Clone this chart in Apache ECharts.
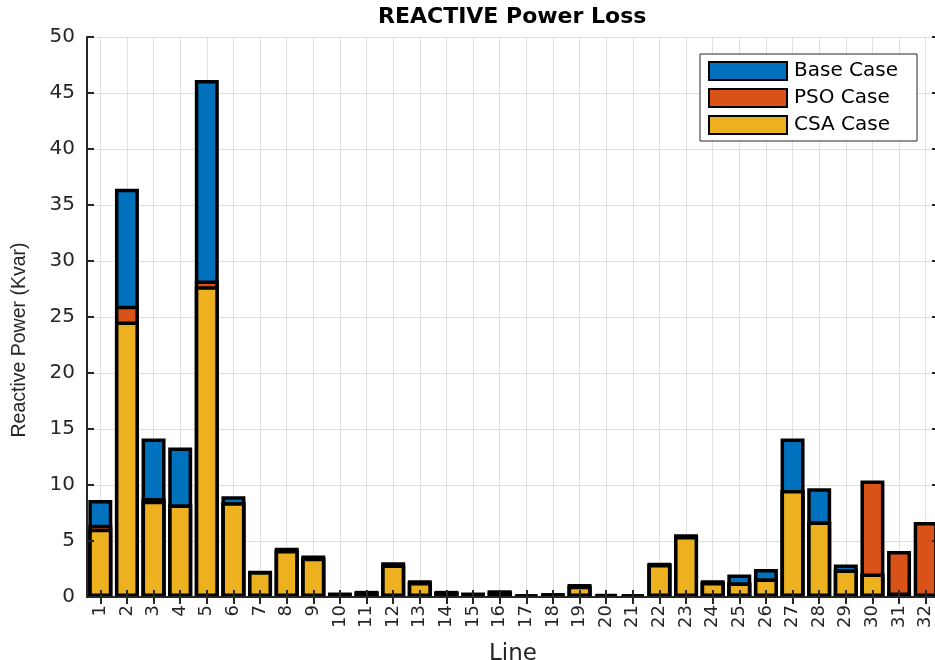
<!DOCTYPE html>
<html>
<head>
<meta charset="utf-8">
<script src="https://cdn.jsdelivr.net/npm/echarts@6/dist/echarts.min.js"></script>
<style>
    html, body { margin: 0; padding: 0; background: #fff; }
    #echart-div { width: 935px; height: 660px; }
</style>
</head>
<body>
<div id="echart-div"></div>
<script>
// line numbers 1..32
var lines = [];
for (var i = 1; i <= 32; i++) lines.push(String(i));

var baseCase = [8.65, 36.45, 14.15, 13.35, 46.15, 9.0, 2.35, 4.4, 3.7, 0.4,
    0.55, 3.1, 1.5, 0.55, 0.4, 0.6, 0.2, 0.35, 1.15, 0.28,
    0.2, 3.05, 5.6, 1.5, 2.0, 2.5, 14.15, 9.7, 2.9, 2.05,
    0.4, 0.15];
var psoCase = [6.45, 26.0, 8.85, 8.25, 28.25, 8.45, 2.3, 4.2, 3.5, 0.25,
    0.4, 2.9, 1.35, 0.45, 0.3, 0.5, 0.15, 0.25, 1.0, 0.2,
    0.15, 2.95, 5.45, 1.35, 1.3, 1.65, 9.55, 6.75, 2.45, 10.4,
    4.1, 6.7];
var csaCase = [6.1, 24.6, 8.6, 8.25, 27.75, 8.45, 2.3, 4.2, 3.5, 0.25,
    0.4, 2.9, 1.35, 0.45, 0.3, 0.5, 0.15, 0.25, 1.0, 0.2,
    0.15, 2.95, 5.45, 1.35, 1.3, 1.65, 9.55, 6.75, 2.45, 2.1,
    0.4, 0.15];
var yTicks = { min: 0, max: 50, interval: 5 };

var axisColor = '#262626';
var myChart = echarts.init(document.getElementById('echart-div'));

function tickAxisX(pos) {
    return {
        type: 'category',
        position: pos,
        data: lines,
        z: 5,
        axisLine: { show: true, lineStyle: { color: axisColor, width: 2 } },
        axisTick: { show: true, inside: true, length: 7, alignWithLabel: true, lineStyle: { color: axisColor, width: 2 } },
        axisLabel: { show: false },
        splitLine: { show: false }
    };
}
function tickAxisY(pos) {
    return {
        type: 'value',
        position: pos,
        min: yTicks.min, max: yTicks.max, interval: yTicks.interval,
        z: 5,
        axisLine: { show: true, lineStyle: { color: axisColor, width: 2 } },
        axisTick: { show: true, inside: true, length: 7, lineStyle: { color: axisColor, width: 2 } },
        axisLabel: { show: false },
        splitLine: { show: false }
    };
}

function barSeries(name, data, color) {
    return {
        name: name, type: 'bar', data: data,
        barWidth: '90%', barGap: '-100%',
        itemStyle: { color: color, borderColor: '#000', borderWidth: 3.5 }
    };
}

var option = {
    animation: false,
    backgroundColor: '#fff',
    title: {
        text: 'REACTIVE Power Loss',
        left: 378,
        top: 6,
        padding: 0,
        textStyle: { fontFamily: 'DejaVu Sans', fontWeight: 'bold', fontSize: 22, color: '#000' }
    },
    legend: {
        orient: 'vertical',
        left: 700,
        top: 54,
        padding: [7, 19, 6, 8],
        itemGap: 7,
        itemWidth: 78,
        itemHeight: 18,
        icon: 'rect',
        backgroundColor: '#fff',
        borderColor: axisColor,
        borderWidth: 1,
        borderRadius: 0,
        textStyle: { fontFamily: 'DejaVu Sans', fontSize: 20, color: '#000', padding: [0, 0, 0, 2] },
        data: ['Base Case', 'PSO Case', 'CSA Case']
    },
    grid: { left: 87, right: -4, top: 37, bottom: 63, containLabel: false, outerBoundsMode: 'none' },
    xAxis: [
        {
            type: 'category',
            data: lines,
            name: 'Line',
            nameLocation: 'middle',
            nameGap: 46,
            nameTextStyle: { fontFamily: 'DejaVu Sans', fontSize: 23, color: axisColor },
            axisLine: { show: false },
            axisTick: { show: false },
            axisLabel: { rotate: 90, margin: 8, fontFamily: 'DejaVu Sans', fontSize: 18, color: axisColor, interval: 0 },
            splitLine: { show: true, alignWithLabel: true, lineStyle: { color: '#dfdfdf', width: 1 } }
        },
        tickAxisX('bottom'),
        tickAxisX('top')
    ],
    yAxis: [
        {
            type: 'value',
            min: yTicks.min, max: yTicks.max, interval: yTicks.interval,
            name: 'Reactive Power (Kvar)',
            nameLocation: 'middle',
            nameGap: 57,
            nameTextStyle: { fontFamily: 'Liberation Sans', fontSize: 19.5, color: axisColor, padding: [0, 46, 0, 0] },
            axisLine: { show: false },
            axisTick: { show: false },
            axisLabel: { margin: 12, fontFamily: 'DejaVu Sans', fontSize: 20, color: axisColor },
            splitLine: { show: true, lineStyle: { color: '#dfdfdf', width: 1 } }
        },
        tickAxisY('left'),
        tickAxisY('right')
    ],
    series: [
        barSeries('Base Case', baseCase, '#0072BD'),
        barSeries('PSO Case', psoCase, '#D95319'),
        barSeries('CSA Case', csaCase, '#EDB120')
    ]
};
myChart.setOption(option);
</script>
</body>
</html>
